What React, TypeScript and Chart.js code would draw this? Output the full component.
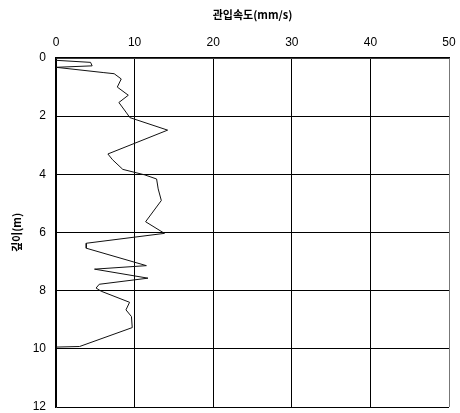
import React, { useEffect, useRef } from "react";
import { Chart, registerables } from "chart.js";

Chart.register(...registerables);

const depthM = [0.08, 0.15, 0.27, 0.32, 0.5, 0.54, 0.72, 1.0, 1.28, 1.53, 1.86, 2.05, 2.48, 3.3, 3.5, 3.83, 4.02, 4.16, 4.5, 4.9, 5.63, 6.03, 6.37, 6.54, 7.14, 7.26, 7.57, 7.78, 7.91, 8.02, 8.4, 8.66, 8.89, 9.27, 9.92, 9.94];
const speedMmS = [0, 4.4, 4.6, 0, 6.0, 7.4, 8.3, 7.8, 9.2, 8.0, 8.9, 9.4, 14.2, 6.6, 7.2, 8.5, 11.3, 12.8, 13.0, 13.4, 11.4, 13.8, 3.85, 3.85, 11.5, 4.9, 11.7, 5.5, 5.1, 5.75, 9.36, 8.9, 9.6, 9.7, 3.0, 0];
const xTitle = "관입속도(mm/s)";
const yTitle = "깊이(m)";

export default function App() {
  const ref = useRef<HTMLCanvasElement | null>(null);
  useEffect(() => {
    document.body.style.margin = "0";
    const ctx = ref.current!;
    const pts = depthM.map((d, i) => ({ x: speedMmS[i], y: d }));
    const tickFont = { family: "'Liberation Sans', Arial, sans-serif", size: 12 };
    const chart = new Chart(ctx, {
      type: "scatter",
      data: {
        datasets: [
          {
            data: pts,
            showLine: true,
            borderColor: "#111",
            borderWidth: 1,
            pointRadius: 0,
            tension: 0,
          },
        ],
      },
      options: {
        animation: false,
        responsive: false,
        maintainAspectRatio: false,
        layout: { padding: { top: 0, right: 11, bottom: 6, left: 0 } },
        plugins: { legend: { display: false }, tooltip: { enabled: false } },
        scales: {
          x: {
            type: "linear",
            position: "top",
            min: 0,
            max: 50,
            ticks: { stepSize: 10, color: "#000", font: tickFont, padding: 8 },
            grid: {
              drawTicks: false,
              color: (c: any) => (c.index === 5 ? "#777" : "#000"),
              lineWidth: 1,
            },
            border: { color: "#000", width: 1.5 },
            title: {
              display: true,
              text: xTitle,
              color: "#000",
              font: { family: "'Noto Sans CJK KR', sans-serif", size: 11, weight: "bold" },
              padding: { top: 8, bottom: 4 },
            },
            afterFit: (s: any) => {
              s.height = 58;
              s.paddingLeft = 0;
              s.paddingRight = 0;
            },
          },
          y: {
            type: "linear",
            reverse: true,
            min: 0,
            max: 12,
            ticks: { stepSize: 2, color: "#000", font: tickFont, padding: 10 },
            grid: {
              drawTicks: false,
              color: (c: any) => (c.index === 6 ? "#777" : "#000"),
              lineWidth: 1,
            },
            border: { color: "#000", width: 1.5 },
            title: {
              display: true,
              text: yTitle,
              color: "#000",
              font: { family: "'Noto Sans CJK KR', sans-serif", size: 11, weight: "bold" },
              padding: { top: 10, bottom: 4 },
            },
            afterFit: (s: any) => {
              s.width = 56;
              s.paddingTop = 0;
              s.paddingBottom = 0;
            },
          },
        },
      },
    });
    return () => chart.destroy();
  }, []);
  return (
    <div style={{ width: 460, height: 413, background: "#fff" }}>
      <canvas ref={ref} width={460} height={413} style={{ display: "block" }} />
    </div>
  );
}
